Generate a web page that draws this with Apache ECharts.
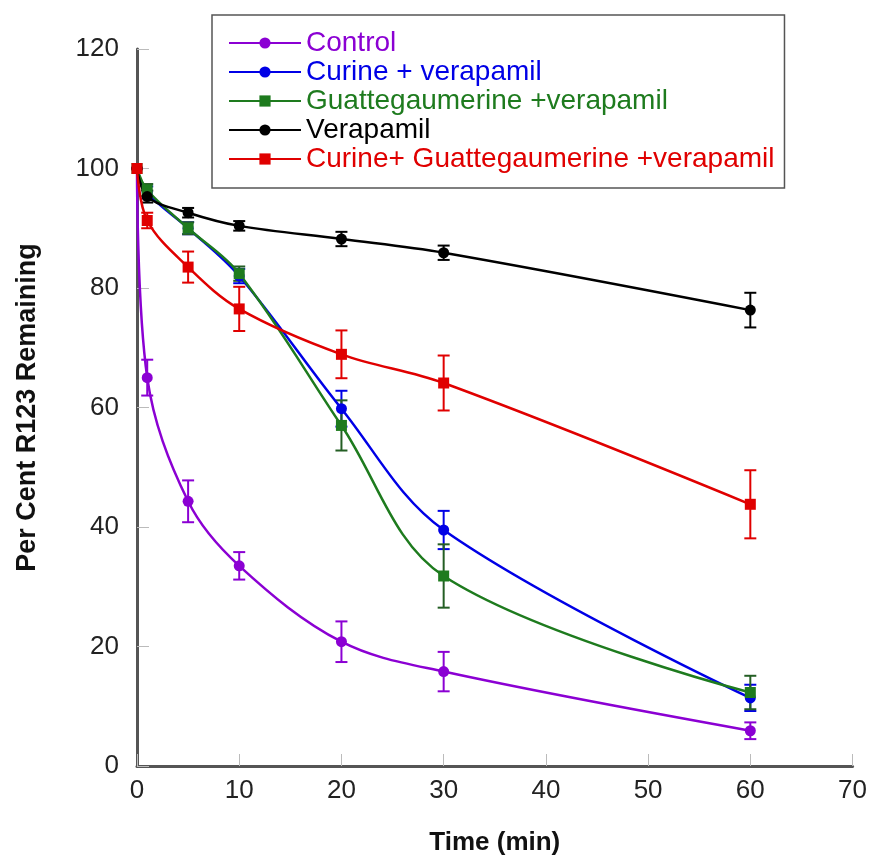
<!DOCTYPE html>
<html>
<head>
<meta charset="utf-8">
<script src="https://cdn.jsdelivr.net/npm/echarts@6/dist/echarts.min.js"></script>
<style>
  html, body { margin: 0; padding: 0; background: #fff; }
  #main { width: 870px; height: 861px; }
</style>
</head>
<body>
<div id="main"></div>
<script>
// time points (min)
var times = [0, 1, 5, 10, 20, 30, 60];

var controlVals = [100, 65, 44.3, 33.5, 20.8, 15.8, 5.9];
var controlErr  = [0, 3, 3.5, 2.3, 3.4, 3.3, 1.4];

var curineVals = [100, 96, 90, 82, 59.8, 39.5, 11.4];
var curineErr  = [0, 1, 1, 1.2, 3, 3.2, 2.2];

var guattVals = [100, 96.4, 90, 82.4, 57, 31.8, 12.3];
var guattErr  = [0, 1, 1, 1.2, 4.2, 5.3, 2.8];

var verapVals = [100, 95.3, 92.6, 90.4, 88.2, 85.9, 76.3];
var verapErr  = [0, 1, 0.8, 0.8, 1.2, 1.2, 2.9];

var comboVals = [100, 91.3, 83.5, 76.5, 68.9, 64.1, 43.8];
var comboErr  = [0, 1.3, 2.6, 3.7, 4, 4.6, 5.7];

var groups = [
  { name: 'Control', vals: controlVals, err: controlErr, color: '#8B00D3', errColor: '#8B00D3', symbol: 'circle' },
  { name: 'Curine + verapamil', vals: curineVals, err: curineErr, color: '#0000E6', errColor: '#0000E6', symbol: 'circle' },
  { name: 'Guattegaumerine +verapamil', vals: guattVals, err: guattErr, color: '#1E7B1E', errColor: '#245E24', symbol: 'rect' },
  { name: 'Verapamil', vals: verapVals, err: verapErr, color: '#000000', errColor: '#000000', symbol: 'circle' },
  { name: 'Curine+ Guattegaumerine +verapamil', vals: comboVals, err: comboErr, color: '#E00000', errColor: '#E00000', symbol: 'rect' }
];

function errorSeries(g) {
  var data = times.map(function (t, i) {
    return [t, g.vals[i] - g.err[i], g.vals[i] + g.err[i]];
  });
  return {
    type: 'custom',
    name: g.name + ' err',
    silent: true,
    z: 3,
    data: data,
    encode: { x: 0, y: [1, 2] },
    renderItem: function (params, api) {
      var x = api.value(0);
      var lo = api.coord([x, api.value(1)]);
      var hi = api.coord([x, api.value(2)]);
      var w = 6;
      var st = { stroke: g.errColor, lineWidth: 2 };
      return {
        type: 'group',
        children: [
          { type: 'line', shape: { x1: lo[0], y1: lo[1], x2: hi[0], y2: hi[1] }, style: st },
          { type: 'line', shape: { x1: lo[0] - w, y1: lo[1], x2: lo[0] + w, y2: lo[1] }, style: st },
          { type: 'line', shape: { x1: hi[0] - w, y1: hi[1], x2: hi[0] + w, y2: hi[1] }, style: st }
        ]
      };
    }
  };
}

var series = [];
groups.forEach(function (g) {
  series.push(errorSeries(g));
});
groups.forEach(function (g) {
  series.push({
    type: 'line',
    name: g.name,
    smooth: 0.35,
    z: 4,
    symbol: g.symbol,
    symbolSize: 11,
    itemStyle: { color: g.color },
    lineStyle: { color: g.color, width: 2.5 },
    data: times.map(function (t, i) { return [t, g.vals[i]]; })
  });
});

var option = {
  backgroundColor: '#ffffff',
  animation: false,
  textStyle: { fontFamily: 'Liberation Sans, Arial, sans-serif' },
  grid: { left: 137, right: 14, top: 49, bottom: 94 },
  legend: {
    orient: 'vertical',
    left: 212,
    top: 15,
    padding: [14, 10, 15, 16],
    itemGap: 1,
    itemWidth: 72,
    itemHeight: 14,
    backgroundColor: '#fff',
    borderColor: '#555',
    borderWidth: 1.5,
    borderRadius: 0,
    textStyle: { fontSize: 28 },
    data: groups.map(function (g) {
      return { name: g.name, textStyle: { color: g.color } };
    })
  },
  xAxis: {
    type: 'value',
    min: 0,
    max: 70,
    interval: 10,
    name: 'Time (min)',
    nameLocation: 'middle',
    nameGap: 64,
    nameTextStyle: { fontSize: 26, fontWeight: 'bold', color: '#111' },
    axisLine: { lineStyle: { color: '#555', width: 3 } },
    axisTick: { inside: true, length: 12, lineStyle: { color: '#bbb', width: 1 } },
    axisLabel: { fontSize: 26, color: '#222', margin: 12 },
    splitLine: { show: false }
  },
  yAxis: {
    type: 'value',
    min: 0,
    max: 120,
    interval: 20,
    name: 'Per Cent R123 Remaining',
    nameLocation: 'middle',
    nameGap: 96,
    nameTextStyle: { fontSize: 27, fontWeight: 'bold', color: '#111' },
    axisLine: { show: true, lineStyle: { color: '#555', width: 3 } },
    axisTick: { show: true, inside: true, length: 12, lineStyle: { color: '#bbb', width: 1 } },
    axisLabel: { fontSize: 26, color: '#222', margin: 18 },
    splitLine: { show: false }
  },
  series: series
};

var chart = echarts.init(document.getElementById('main'));
chart.setOption(option);
</script>
</body>
</html>
